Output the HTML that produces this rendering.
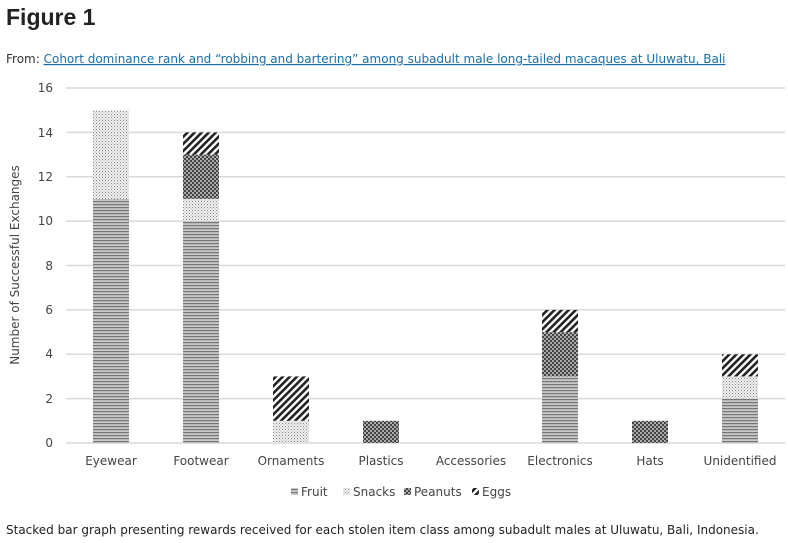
<!DOCTYPE html>
<html><head><meta charset="utf-8"><style>
body{margin:0;background:#fff;width:788px;height:543px;overflow:hidden;font-family:"DejaVu Sans","Liberation Sans",sans-serif;}
</style></head><body>
<svg width="788" height="543" xmlns="http://www.w3.org/2000/svg" style="position:absolute;left:0;top:0">
<defs>
<pattern id="fr" width="4" height="3" patternUnits="userSpaceOnUse"><rect width="4" height="3" fill="#c8c8c8"/><rect width="4" height="1.2" fill="#777"/></pattern>
<pattern id="sn" width="3" height="3" patternUnits="userSpaceOnUse"><rect width="3" height="3" fill="#f0f0f0"/><rect width="1" height="1" fill="#888"/><rect x="1.5" y="1.5" width="1" height="1" fill="#aaa"/></pattern>
<pattern id="pn" width="4" height="4" patternUnits="userSpaceOnUse"><rect width="4" height="4" fill="#444"/><rect width="2" height="2" fill="#aaa"/><rect x="2" y="2" width="2" height="2" fill="#aaa"/></pattern>
<pattern id="eg" width="5" height="5" patternUnits="userSpaceOnUse" patternTransform="rotate(45)"><rect width="5" height="5" fill="#fff"/><rect width="2.6" height="5" fill="#222"/></pattern>
</defs>
<text x="6" y="25" font-family="Liberation Sans,sans-serif" font-weight="bold" font-size="23" fill="#222">Figure 1</text>
<text x="6" y="63" font-size="12" fill="#333">From: <tspan fill="#1a6ea8" text-decoration="underline">Cohort dominance rank and “robbing and bartering” among subadult male long-tailed macaques at Uluwatu, Bali</tspan></text>
<g stroke="#d9d9d9" stroke-width="1.5">
<line x1="66" x2="785" y1="88" y2="88"/><line x1="66" x2="785" y1="132.4" y2="132.4"/><line x1="66" x2="785" y1="176.8" y2="176.8"/><line x1="66" x2="785" y1="221.1" y2="221.1"/><line x1="66" x2="785" y1="265.5" y2="265.5"/><line x1="66" x2="785" y1="309.9" y2="309.9"/><line x1="66" x2="785" y1="354.3" y2="354.3"/><line x1="66" x2="785" y1="398.6" y2="398.6"/><line x1="66" x2="785" y1="443" y2="443"/>
</g>
<g font-size="12" fill="#444" text-anchor="end">
<text x="53" y="92">16</text><text x="53" y="137">14</text><text x="53" y="181">12</text><text x="53" y="225">10</text><text x="53" y="270">8</text><text x="53" y="314">6</text><text x="53" y="358">4</text><text x="53" y="403">2</text><text x="53" y="447">0</text>
</g>
<text transform="translate(19,265) rotate(-90)" font-size="12" fill="#444" text-anchor="middle">Number of Successful Exchanges</text>
<g>
<rect x="93" y="198.9" width="36" height="244.1" fill="url(#fr)"/><rect x="93" y="110.2" width="36" height="88.7" fill="url(#sn)"/>
<rect x="183" y="221.1" width="36" height="221.9" fill="url(#fr)"/><rect x="183" y="198.9" width="36" height="22.2" fill="url(#sn)"/><rect x="183" y="154.6" width="36" height="44.3" fill="url(#pn)"/><rect x="183" y="132.4" width="36" height="22.2" fill="url(#eg)"/>
<rect x="273" y="420.8" width="36" height="22.2" fill="url(#sn)"/><rect x="273" y="376.4" width="36" height="44.4" fill="url(#eg)"/>
<rect x="363" y="420.8" width="36" height="22.2" fill="url(#pn)"/>
<rect x="542" y="376.4" width="36" height="66.6" fill="url(#fr)"/><rect x="542" y="332.1" width="36" height="44.3" fill="url(#pn)"/><rect x="542" y="309.9" width="36" height="22.2" fill="url(#eg)"/>
<rect x="632" y="420.8" width="36" height="22.2" fill="url(#pn)"/>
<rect x="722" y="398.6" width="36" height="44.4" fill="url(#fr)"/><rect x="722" y="376.4" width="36" height="22.2" fill="url(#sn)"/><rect x="722" y="354.3" width="36" height="22.1" fill="url(#eg)"/>
</g>
<g font-size="12" fill="#444" text-anchor="middle">
<text x="111" y="465">Eyewear</text><text x="201" y="465">Footwear</text><text x="291" y="465">Ornaments</text><text x="381" y="465">Plastics</text><text x="471" y="465">Accessories</text><text x="560" y="465">Electronics</text><text x="650" y="465">Hats</text><text x="740" y="465">Unidentified</text>
</g>
<g font-size="12" fill="#444">
<rect x="291" y="488" width="7" height="7" fill="url(#fr)"/><text x="301" y="496">Fruit</text>
<rect x="343" y="488" width="7" height="7" fill="url(#sn)"/><text x="353" y="496">Snacks</text>
<rect x="404" y="488" width="7" height="7" fill="url(#pn)"/><text x="414" y="496">Peanuts</text>
<rect x="472" y="488" width="7" height="7" fill="url(#eg)"/><text x="482" y="496">Eggs</text>
</g>
<text x="6" y="534" font-size="12" fill="#222">Stacked bar graph presenting rewards received for each stolen item class among subadult males at Uluwatu, Bali, Indonesia.</text>
</svg>
</body></html>
